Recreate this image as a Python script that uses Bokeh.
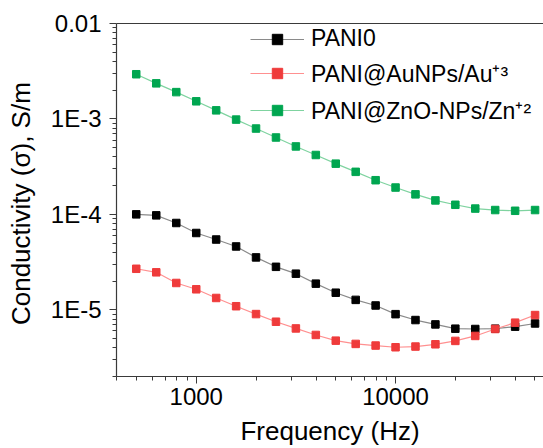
from bokeh.plotting import figure
from bokeh.models import (LogAxis, FixedTicker, CustomJSTickFormatter, Legend, LegendItem,
                          Range1d)
from bokeh.embed import file_html
from bokeh.resources import INLINE

# ---- data ----
freq = [500, 630, 794, 1000, 1259, 1585, 1995, 2512, 3162, 3981, 5012, 6310, 7943,
        10000, 12589, 15849, 19953, 25119, 31623, 39811, 50119]
pani0 = [1.00e-4, 9.76e-5, 8.12e-5, 6.38e-5, 5.45e-5, 4.61e-5, 3.54e-5, 2.82e-5, 2.39e-5,
         1.88e-5, 1.51e-5, 1.27e-5, 1.11e-5, 9.0e-6, 7.81e-6, 7.03e-6, 6.34e-6, 6.29e-6,
         6.34e-6, 6.66e-6, 7.19e-6]
pani_au = [2.69e-5, 2.47e-5, 1.91e-5, 1.64e-5, 1.33e-5, 1.09e-5, 9.02e-6, 7.50e-6, 6.38e-6,
           5.45e-6, 4.75e-6, 4.39e-6, 4.22e-6, 4.05e-6, 4.12e-6, 4.35e-6, 4.72e-6, 5.32e-6,
           6.29e-6, 7.33e-6, 8.81e-6]
pani_zn = [2.94e-3, 2.36e-3, 1.91e-3, 1.53e-3, 1.23e-3, 9.84e-4, 7.93e-4, 6.39e-4, 5.15e-4,
           4.19e-4, 3.40e-4, 2.79e-4, 2.28e-4, 1.91e-4, 1.62e-4, 1.40e-4, 1.26e-4, 1.15e-4,
           1.11e-4, 1.09e-4, 1.11e-4]
series_names = ["PANI0", "PANI@AuNPs/Au\u207a\u00b3", "PANI@ZnO-NPs/Zn\u207a\u00b2"]
x_major = [1000, 10000]
x_minor = [400, 500, 600, 700, 800, 900, 2000, 3000, 4000, 5000, 6000, 7000, 8000, 9000,
           20000, 30000, 40000, 50000]
y_major = [1e-5, 1e-4, 1e-3, 1e-2]
y_minor = [m * 10.0 ** e for e in (-6, -5, -4, -3) for m in range(2, 10)]

FONT = "Liberation Sans"
AX = "#3a3a3a"

p = figure(width=543, height=448, x_axis_type="log", y_axis_type="log",
           x_range=Range1d(398, 55250), y_range=Range1d(2.0e-6, 1.0e-2),
           output_backend="svg", toolbar_location=None,
           min_border_left=116, min_border_right=0, min_border_top=23, min_border_bottom=72)
p.outline_line_color = None
p.grid.visible = False
p.background_fill_color = "white"
p.border_fill_color = "white"

for ax, maj, mino in ((p.xaxis[0], x_major, x_minor), (p.yaxis[0], y_major, y_minor)):
    ax.ticker = FixedTicker(ticks=maj, minor_ticks=mino)
    ax.axis_line_color = AX
    ax.axis_line_width = 1.2
    ax.major_tick_line_color = AX
    ax.minor_tick_line_color = AX
    ax.major_tick_out = 7
    ax.major_tick_in = 0
    ax.minor_tick_out = 4
    ax.minor_tick_in = 0
    ax.major_label_text_font = FONT
    ax.major_label_text_font_size = "24px"
    ax.major_label_text_color = "black"
    ax.axis_label_text_font = FONT
    ax.axis_label_text_font_size = "26px"
    ax.axis_label_text_font_style = "normal"
    ax.axis_label_text_color = "black"

p.xaxis[0].axis_label = "Frequency (Hz)"
p.xaxis[0].major_label_standoff = 4
p.xaxis[0].axis_label_standoff = 8
p.xaxis[0].formatter = CustomJSTickFormatter(code="return Math.round(tick).toString();")

p.yaxis[0].axis_label = "Conductivity (\u03c3),  S/m"
p.yaxis[0].major_label_standoff = 8
p.yaxis[0].axis_label_standoff = 12
p.yaxis[0].formatter = CustomJSTickFormatter(code="""
const e = Math.round(Math.log10(tick));
if (e == -2) { return "0.01"; }
return "1E" + e;
""")

top = LogAxis(ticker=FixedTicker(ticks=[]), axis_line_color=AX, axis_line_width=1.2,
              major_tick_line_color=None, minor_tick_line_color=None,
              major_label_text_font_size="0px")
p.add_layout(top, "above")

styles = [
    (pani0, "#8a8a8a", "#000000"),
    (pani_au, "#ff9090", "#ef3b3b"),
    (pani_zn, "#7fd3a0", "#00a650"),
]
items = []
for (vals, lc, mc), name in zip(styles, series_names):
    l = p.line(freq, vals, line_color=lc, line_width=1.2)
    s = p.scatter(freq, vals, marker="square", size=7.5, fill_color=mc, line_color=mc)
    items.append(LegendItem(label=name, renderers=[l, s]))

legend = Legend(items=items, location=(134, 250), orientation="vertical",
                background_fill_alpha=0, border_line_color=None,
                label_text_font=FONT, label_text_font_size="23px",
                label_text_color="black", glyph_width=54, glyph_height=26,
                label_standoff=7, spacing=5, padding=0, margin=0)
p.add_layout(legend)

open("out.html", "w").write(file_html(p, INLINE))
